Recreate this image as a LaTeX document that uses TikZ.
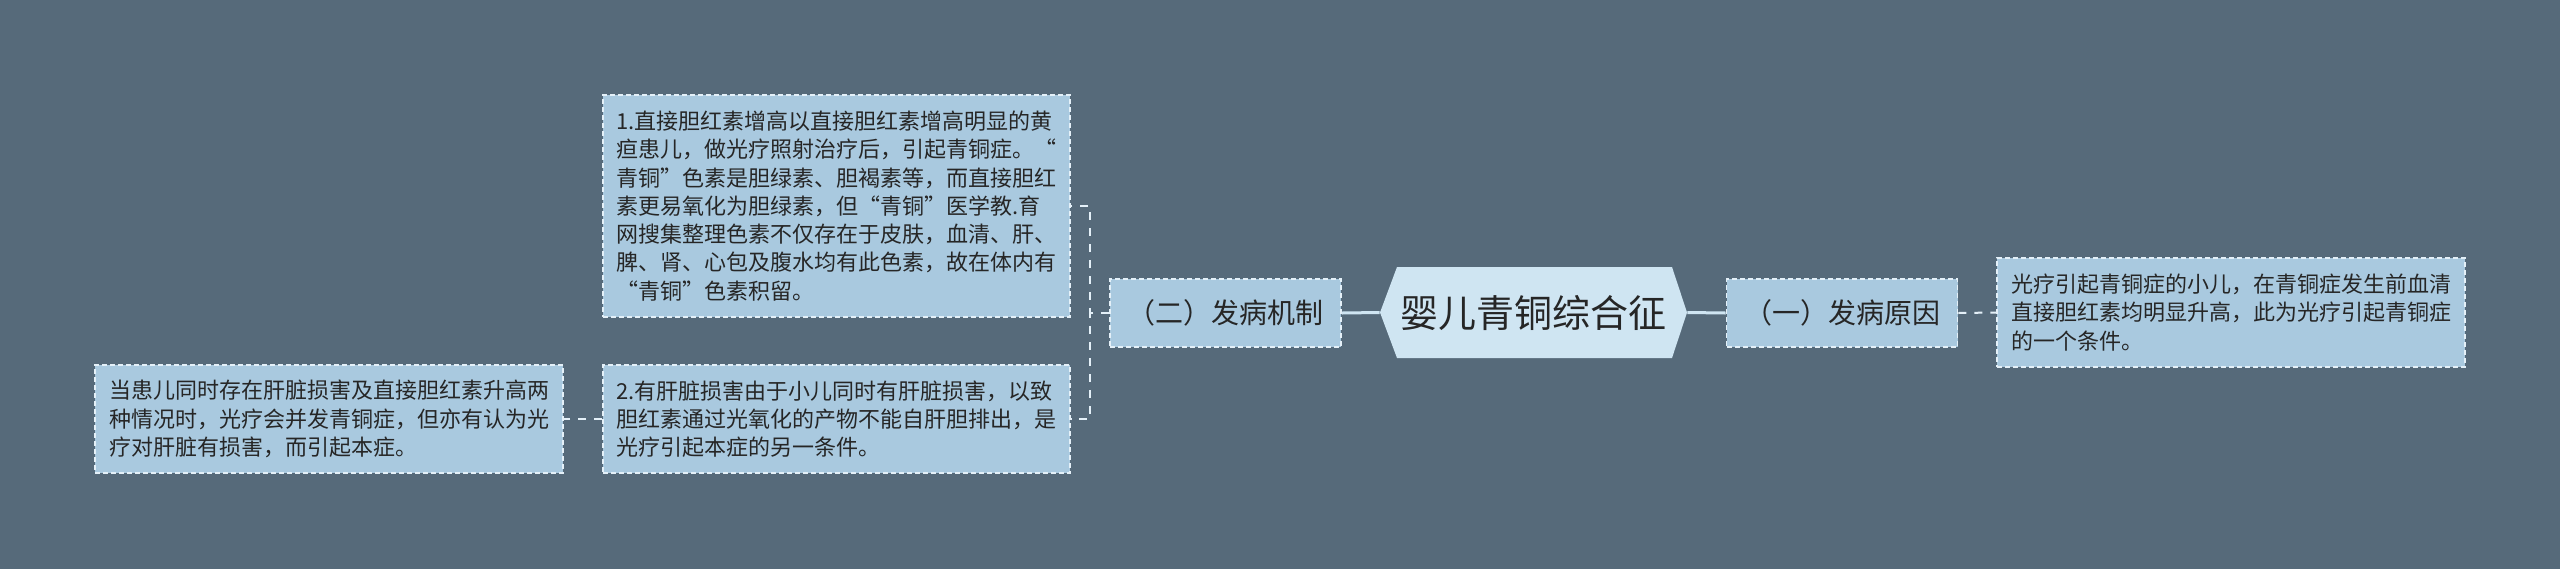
\documentclass[tikz,border=0pt]{standalone}
\usepackage{fontspec}
\setmainfont{Noto Sans CJK SC}
\definecolor{bgslate}{HTML}{566A7A}
\definecolor{boxfill}{HTML}{A9C9DF}
\definecolor{titlefill}{HTML}{CFE5F2}
\definecolor{rimline}{HTML}{E4F0F8}
\definecolor{inktext}{HTML}{262626}

\begin{document}
\begin{tikzpicture}[x=0.5pt,y=-0.5pt,
  every node/.style={text=inktext},
  leafbox/.style={draw=rimline,fill=boxfill,line width=0.8pt,dash pattern=on 2.5pt off 1.5pt,
    font=\fontsize{11}{14.15}\selectfont,align=left,inner xsep=6pt,inner ysep=0pt},
  headbox/.style={draw=rimline,fill=boxfill,line width=0.8pt,dash pattern=on 2.5pt off 1.5pt,
    font=\fontsize{14}{16}\selectfont,minimum width=115.5pt,minimum height=34pt,inner sep=0pt},
  trunk/.style={draw=titlefill,line width=1.5pt},
  twig/.style={draw=rimline,line width=1pt,dash pattern=on 4pt off 4pt}]
\fill[bgslate] (0,0) rectangle (2560,569);
\fill[titlefill] (1380,312.5)--(1397,267)--(1672,267)--(1687,312.5)--(1672,358)--(1397,358)--cycle;
\node[font=\fontsize{19}{22}\selectfont,minimum width=153.5pt,minimum height=45.5pt,inner sep=0pt] (title) at (1533.5,312.5) {婴儿青铜综合征};
\node[headbox] (mech) at (1225.5,313) {（二）发病机制};
\node[headbox] (cause) at (1842,313) {（一）发病原因};
\node[leafbox,minimum width=233.5pt,minimum height=111pt] (mechone) at (836.5,206) {1.直接胆红素增高以直接胆红素增高明显的黄\\疸患儿，做光疗照射治疗后，引起青铜症。“\\青铜”色素是胆绿素、胆褐素等，而直接胆红\\素更易氧化为胆绿素，但“青铜”医学教.育\\网搜集整理色素不仅存在于皮肤，血清、肝、\\脾、肾、心包及腹水均有此色素，故在体内有\\“青铜”色素积留。};
\node[leafbox,minimum width=233.5pt,minimum height=54pt] (mechtwo) at (836.5,419) {2.有肝脏损害由于小儿同时有肝脏损害，以致\\胆红素通过光氧化的产物不能自肝胆排出，是\\光疗引起本症的另一条件。};
\node[leafbox,minimum width=234pt,minimum height=54pt] (liver) at (329,419) {当患儿同时存在肝脏损害及直接胆红素升高两\\种情况时，光疗会并发青铜症，但亦有认为光\\疗对肝脏有损害，而引起本症。};
\node[leafbox,minimum width=234pt,minimum height=54.5pt] (serum) at (2231,312.5) {光疗引起青铜症的小儿，在青铜症发生前血清\\直接胆红素均明显升高，此为光疗引起青铜症\\的一个条件。};
\draw[trunk] (title.west)--(mech.east);
\draw[trunk] (title.east)--(cause.west);
\draw[twig] (mech.west)--++(-19,0) |- (mechone.east);
\draw[twig] (mech.west)--++(-19,0) |- (mechtwo.east);
\draw[twig] (mechtwo.west)--(liver.east);
\draw[twig] (cause.east)--(serum.west);
\end{tikzpicture}
\end{document}
